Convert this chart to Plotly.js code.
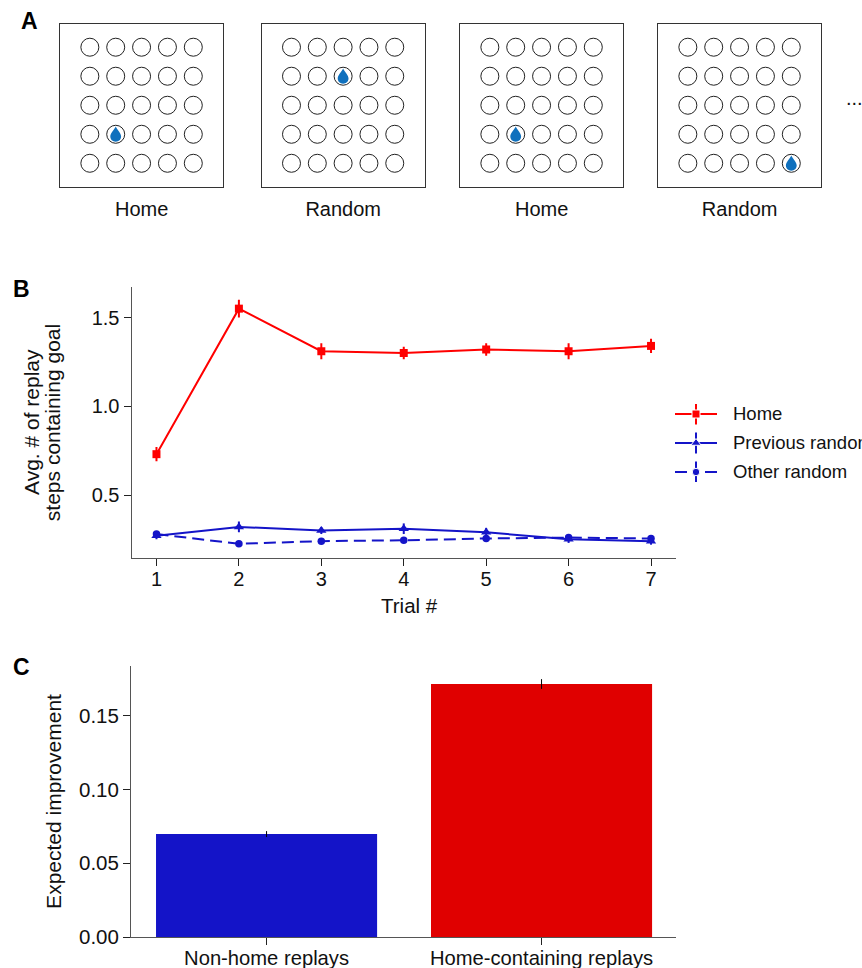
<!DOCTYPE html>
<html><head><meta charset="utf-8">
<script src="https://cdn.plot.ly/plotly-3.0.1.min.js"></script>
<style>html,body{margin:0;padding:0;background:#fff}#g{width:862px;height:968px}</style>
</head><body><div id="g"></div>
<script>
const W=862,H=968;
const FONT='"Liberation Sans", Arial, sans-serif';
const TXT='#111111', AX='#555555';
// Panel A
const gridCols=[0,1,2,3,4], gridRows=[0,1,2,3,4];
const sessionLabels=['Home','Random','Home','Random'];
const goalCols=[1,2,1,4], goalRows=[3,1,3,4];
// Panel B
const trials=[1,2,3,4,5,6,7];
const homeVals=[0.73,1.55,1.31,1.30,1.32,1.31,1.34];
const homeErr=[0.04,0.05,0.045,0.035,0.035,0.045,0.04];
const prevVals=[0.27,0.32,0.30,0.31,0.29,0.25,0.24];
const prevErr=[0.02,0.03,0.02,0.03,0.025,0.02,0.02];
const otherVals=[0.28,0.225,0.24,0.245,0.255,0.26,0.255];
const otherErr=[0.012,0.012,0.012,0.012,0.012,0.012,0.012];
const seriesNames=['Home','Previous random','Other random'];
// Panel C
const barCats=['Non-home replays','Home-containing replays'];
const barVals=[0.0697,0.1713];
const barErr=[0.002,0.0033];

const RED='#ff0000',BLUE='#1414c8',DROP='#0f70bd';
const xd=(l,r)=>[l/W,r/W], yd=(t,b)=>[1-b/H,1-t/H];
const traces=[],layout={width:W,height:H,margin:{l:0,r:0,t:0,b:0},paper_bgcolor:'#fff',plot_bgcolor:'#fff',
  showlegend:false,font:{family:FONT,size:20,color:TXT},shapes:[],annotations:[]};

// Panel A frames
const frames=[[60,223.3],[261.7,424.7],[460,623.3],[658,821.3]];
frames.forEach((f,i)=>{
  const n=i+1, xa='xaxis'+n, ya='yaxis'+n;
  const gx=[],gy=[];
  gridRows.forEach(r=>gridCols.forEach(c=>{gx.push(c);gy.push(r);}));
  traces.push({type:'scatter',mode:'markers',x:gx,y:gy,xaxis:'x'+n,yaxis:'y'+n,hoverinfo:'skip',
    name:sessionLabels[i]+' grid',marker:{symbol:'circle',size:18,color:'rgba(255,255,255,0)',line:{color:'#222',width:1}}});
  layout[xa]={domain:xd(f[0],f[1]),range:[-1.154,5.16],anchor:'y'+n,showgrid:false,zeroline:false,showticklabels:false,ticks:'',
    showline:true,mirror:true,linecolor:'#333',linewidth:1,
    title:{text:sessionLabels[i],standoff:15,font:{size:20,color:TXT}}};
  layout[ya]={domain:yd(23.5,186.5),range:[4.80,-0.817],anchor:'x'+n,showgrid:false,zeroline:false,showticklabels:false,ticks:'',
    showline:true,mirror:true,linecolor:'#333',linewidth:1};
  layout.shapes.push({type:'path',xref:'x'+n,yref:'y'+n,xsizemode:'pixel',ysizemode:'pixel',xanchor:goalCols[i],yanchor:goalRows[i],
    path:'M0,7.7 C1.5,4.5 5.4,1 5.4,-2.2 C5.4,-5.2 3,-7.4 0,-7.4 C-3,-7.4 -5.4,-5.2 -5.4,-2.2 C-5.4,1 -1.5,4.5 0,7.7 Z',
    fillcolor:DROP,line:{width:0},layer:'above'});
});

// Panel B
function line(name,y,err,color,sym,size,dash){
  return {type:'scatter',mode:'lines+markers',name,x:trials,y,xaxis:'x5',yaxis:'y5',cliponaxis:false,
    line:{color,width:2,dash},marker:{symbol:sym,size,color},
    error_y:{type:'data',array:err,visible:true,width:0,thickness:2,color}};
}
traces.push(line(seriesNames[2],otherVals,otherErr,BLUE,'circle',7.5,'12px,6px'));
traces.push(line(seriesNames[1],prevVals,prevErr,BLUE,'triangle-up',9,'solid'));
traces.push(line(seriesNames[0],homeVals,homeErr,RED,'square',8,'solid'));
const axCommon={showgrid:false,zeroline:false,showline:true,linecolor:AX,linewidth:1,ticks:'outside',ticklen:7,tickwidth:1,tickcolor:'#222',
  tickfont:{size:20,color:TXT}};
layout.xaxis5=Object.assign({},axCommon,{domain:xd(131.5,676),range:[0.697,7.303],anchor:'y5',tickvals:trials,ticklabelstandoff:-4});
layout.yaxis5=Object.assign({},axCommon,{domain:yd(287,558),range:[0.145,1.672],anchor:'x5',tickvals:[0.5,1,1.5],tickformat:'.1f',
  title:{text:'steps containing goal',standoff:25,font:{size:21,color:TXT}}});
layout.annotations.push({text:'Trial #',xref:'paper',yref:'paper',x:409/W,y:1-605/H,xanchor:'center',yanchor:'middle',showarrow:false,font:{size:20.5,color:TXT}});
layout.annotations.push({text:'Avg. # of replay',xref:'paper',yref:'paper',x:32/W,y:1-422/H,xanchor:'center',yanchor:'middle',textangle:-90,showarrow:false,font:{size:21,color:TXT}});

// Panel B key
const keyX=[0,0.5,1], keyErr=[0,0.36,0];
[[seriesNames[0],0,RED,'square',8,'solid'],[seriesNames[1],1,BLUE,'triangle-up',9,'solid'],[seriesNames[2],2,BLUE,'circle',7.5,'12px,18px,12px']].forEach(k=>{
  traces.push({type:'scatter',mode:'lines+markers',name:k[0]+' key',x:keyX,y:keyX.map(()=>k[1]),xaxis:'x6',yaxis:'y6',cliponaxis:false,hoverinfo:'skip',
    line:{color:k[2],width:2,dash:k[5]},marker:{symbol:k[3],size:[0,k[4],0],color:k[2],opacity:1},
    error_y:{type:'data',array:keyErr,visible:true,width:0,thickness:2,color:k[2]}});
  layout.annotations.push({text:k[0],xref:'paper',yref:'y6',x:731/W,y:k[1]-0.02,xanchor:'left',yanchor:'middle',showarrow:false,
    font:{size:18.5,color:TXT}});
});
layout.xaxis6={domain:xd(675,717),range:[0,1],anchor:'y6',visible:false};
layout.yaxis6={domain:yd(404,482),range:[2.345,-0.345],anchor:'x6',visible:false};

// Panel C
traces.push({type:'bar',name:'Expected improvement',x:barCats,y:barVals,xaxis:'x7',yaxis:'y7',width:0.804,
  marker:{color:[BLUE,'#e00000'],line:{width:0}},
  error_y:{type:'data',array:barErr,visible:true,width:0,thickness:1,color:'#000'}});
layout.xaxis7=Object.assign({},axCommon,{domain:xd(131,676),range:[-0.493,1.489],anchor:'y7',type:'category',
  ticklabelstandoff:-4,tickfont:{size:20.2,color:TXT}});
layout.yaxis7=Object.assign({},axCommon,{domain:yd(666,937),range:[0,0.1835],anchor:'x7',tickvals:[0,0.05,0.1,0.15],tickformat:'.2f',
  tickfont:{size:20.5,color:TXT},title:{text:'Expected improvement',standoff:11,font:{size:21,color:TXT}}});

// Panel letters and ellipsis
[['A',19,21],['B',11,289],['C',11,667]].forEach(a=>layout.annotations.push({text:'<b>'+a[0]+'</b>',xref:'paper',yref:'paper',
  x:a[1]/W,y:1-a[2]/H,xanchor:'left',yanchor:'middle',showarrow:false,font:{size:23,color:'#000'}}));
layout.annotations.push({text:'...',xref:'paper',yref:'paper',x:844/W,y:1-98/H,xanchor:'left',yanchor:'middle',showarrow:false,font:{size:20,color:TXT}});

Plotly.newPlot('g',traces,layout,{displayModeBar:false,responsive:false});
</script></body></html>
